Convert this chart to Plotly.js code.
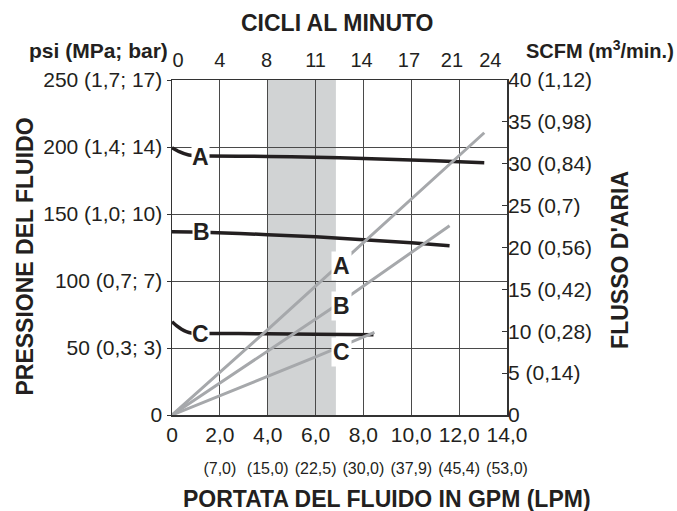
<!DOCTYPE html>
<html>
<head>
<meta charset="utf-8">
<script src="https://cdn.plot.ly/plotly-3.0.1.min.js"></script>
<style>html,body{margin:0;padding:0;background:#fff;}</style>
</head>
<body>
<div id="chart" style="width:677px;height:511px;"></div>
<script>
// ---- data ----
// fluid pressure curves (psi) vs fluid flow (GPM)
const pressA_x = [0, 0.3, 0.7, 1.5, 4, 6, 8, 10, 12, 13.05];
const pressA_y = [199.5, 196.5, 194, 193.3, 193, 192.3, 191.5, 190.3, 189, 188.3];
const pressB_x = [0, 0.8, 1.6, 4, 6, 8, 10, 11.6];
const pressB_y = [136.8, 136.6, 136.2, 134.6, 133, 130.7, 128.5, 126.3];
const pressC_x = [0, 0.2, 0.4, 0.6, 0.8, 1.5, 4, 6, 8.42];
const pressC_y = [69.6, 66.5, 64, 62.2, 61.2, 60.9, 60.6, 60.3, 59.9];
// air flow curves (SCFM) vs fluid flow (GPM)
const airA_x = [0, 4, 13.05];
const airA_y = [0, 10.2, 33.7];
const airB_x = [0, 6.6, 11.6];
const airB_y = [0, 12.6, 22.6];
const airC_x = [0, 6.03, 8.46];
const airC_y = [0, 6.96, 9.87];
// shaded recommended band (GPM)
const bandRange = [4.0, 6.85];

// tick labels
const gpmTicks = [0, 2, 4, 6, 8, 10, 12, 14];
const gpmLabels = ["0", "2,0", "4,0", "6,0", "8,0", "10,0", "12,0", "14,0"];
const lpmTicks = [2, 4, 6, 8, 10, 12, 14];
const lpmLabels = ["(7,0)", "(15,0)", "(22,5)", "(30,0)", "(37,9)", "(45,4)", "(53,0)"];
const cycleLabels = ["0", "4", "8", "11", "14", "17", "21", "24"];
const cyclePos = [0.25, 2.0, 3.95, 6.0, 7.92, 9.9, 11.7, 13.3];
const psiTicks = [0, 50, 100, 150, 200, 250];
const psiLabels = ["0", "50 (0,3; 3)", "100 (0,7; 7)", "150 (1,0; 10)", "200 (1,4; 14)", "250 (1,7; 17)"];
const scfmTicks = [0, 5, 10, 15, 20, 25, 30, 35, 40];
const scfmLabels = ["0", "5 (0,14)", "10 (0,28)", "15 (0,42)", "20 (0,56)", "25 (0,7)", "30 (0,84)", "35 (0,98)", "40 (1,12)"];

// curve labels
const curveNames = ["A", "B", "C"];
const pressLabelX = [1.17, 1.23, 1.17];
const pressLabelY = [192.5, 136.6, 60.4];
const airLabelX = [7.07, 7.07, 7.07];
const airLabelY = [17.8, 13.0, 7.5];

// ---- styling ----
const FONT = "Liberation Sans, Arial, Helvetica, sans-serif";
const INK = "#231f20";
const GRAY = "#a6a8ab";
const GRID = "#4a4a4a";

const blackLine = {color: INK, width: 3.5, shape: "spline", smoothing: 0.6};
const grayLine = {color: GRAY, width: 3};

const traces = [
  {x: airA_x, y: airA_y, xaxis: "x", yaxis: "y2", mode: "lines", line: grayLine, hoverinfo: "skip"},
  {x: airB_x, y: airB_y, xaxis: "x", yaxis: "y2", mode: "lines", line: grayLine, hoverinfo: "skip"},
  {x: airC_x, y: airC_y, xaxis: "x", yaxis: "y2", mode: "lines", line: grayLine, hoverinfo: "skip"},
  {x: pressA_x, y: pressA_y, xaxis: "x", yaxis: "y", mode: "lines", line: blackLine, hoverinfo: "skip"},
  {x: pressB_x, y: pressB_y, xaxis: "x", yaxis: "y", mode: "lines", line: blackLine, hoverinfo: "skip"},
  {x: pressC_x, y: pressC_y, xaxis: "x", yaxis: "y", mode: "lines", line: blackLine, hoverinfo: "skip"},
  // invisible helpers so the extra axes (cycles on top, LPM below) are drawn
  {x: cyclePos, y: cyclePos.map(() => null), xaxis: "x2", yaxis: "y", mode: "markers", marker: {opacity: 0}, hoverinfo: "skip"},
  {x: lpmTicks, y: lpmTicks.map(() => null), xaxis: "x3", yaxis: "y", mode: "markers", marker: {opacity: 0}, hoverinfo: "skip"}
];

const annotations = [];
curveNames.forEach((n, i) => {
  annotations.push({x: pressLabelX[i], y: pressLabelY[i], xref: "x", yref: "y", text: n, showarrow: false,
    bgcolor: "#ffffff", borderpad: 0, font: {family: FONT, size: 23, weight: "bold", color: INK}});
  annotations.push({x: airLabelX[i], y: airLabelY[i], xref: "x", yref: "y2", text: n, showarrow: false,
    bgcolor: "#ffffff", borderpad: 1, font: {family: FONT, size: 23, weight: "bold", color: INK}});
});
const titleFont = {family: FONT, size: 23, weight: "bold", color: INK};
annotations.push(
  {text: "CICLI AL MINUTO", xref: "paper", yref: "paper", x: 0.4955, y: 1.170, xanchor: "center", yanchor: "middle", showarrow: false, font: titleFont},
  {text: "psi (MPa; bar)", xref: "paper", yref: "paper", x: -0.006, y: 1.0866, xanchor: "right", yanchor: "middle", showarrow: false, font: {family: FONT, size: 21, weight: "bold", color: INK}},
  {text: "SCFM (m<sup>3</sup>/min.)", xref: "paper", yref: "paper", x: 1.503, y: 1.0925, xanchor: "right", yanchor: "middle", showarrow: false, font: {family: FONT, size: 20, weight: "bold", color: INK}},
  {text: "PRESSIONE DEL FLUIDO", xref: "paper", yref: "paper", x: -0.4388, y: 0.473, xanchor: "center", yanchor: "middle", textangle: -90, showarrow: false, font: titleFont},
  {text: "FLUSSO D'ARIA", xref: "paper", yref: "paper", x: 1.337, y: 0.4627, xanchor: "center", yanchor: "middle", textangle: -90, showarrow: false, font: titleFont},
  {text: "PORTATA DEL FLUIDO IN GPM (LPM)", xref: "paper", yref: "paper", x: 0.642, y: -0.251, xanchor: "center", yanchor: "middle", showarrow: false, font: titleFont}
);

const tickFont = {family: FONT, size: 21, color: INK};

const layout = {
  width: 677, height: 511,
  margin: {l: 172, r: 170, t: 80, b: 96, pad: 0},
  paper_bgcolor: "#ffffff", plot_bgcolor: "#ffffff",
  showlegend: false,
  font: {family: FONT, color: INK},
  xaxis: {range: [0, 14], tickvals: gpmTicks, ticktext: gpmLabels, ticks: "", showgrid: true, gridcolor: GRID, gridwidth: 1,
          zeroline: false, showline: true, linecolor: "#333", linewidth: 1.5, mirror: true, tickfont: tickFont, fixedrange: true},
  xaxis2: {range: [0, 14], overlaying: "x", side: "top", anchor: "y", tickvals: cyclePos, ticktext: cycleLabels, ticks: "",
           showgrid: false, zeroline: false, showline: false, tickfont: {family: FONT, size: 20, color: INK}, ticklabelstandoff: 8, fixedrange: true},
  xaxis3: {range: [0, 14], overlaying: "x", side: "bottom", anchor: "y", tickvals: lpmTicks, ticktext: lpmLabels, ticks: "",
           showgrid: false, zeroline: false, showline: false, tickfont: {family: FONT, size: 16, color: INK}, ticklabelstandoff: 42, fixedrange: true},
  yaxis: {range: [0, 250], tickvals: psiTicks, ticktext: psiLabels, ticks: "outside", ticklen: 4, tickcolor: "#333", showgrid: true,
          gridcolor: GRID, gridwidth: 1, zeroline: false, showline: true, linecolor: "#333", linewidth: 1.5, mirror: true, tickfont: tickFont, fixedrange: true},
  yaxis2: {range: [0, 40], overlaying: "y", side: "right", anchor: "x", tickvals: scfmTicks, ticktext: scfmLabels, ticks: "inside", ticklen: 5,
           tickcolor: "#333", showgrid: false, zeroline: false, showline: false, tickfont: tickFont, fixedrange: true},
  shapes: [{type: "rect", xref: "x", yref: "paper", x0: bandRange[0], x1: bandRange[1], y0: 0, y1: 1,
            fillcolor: "#d1d3d4", line: {width: 0}, layer: "below"}],
  annotations: annotations
};

Plotly.newPlot("chart", traces, layout, {staticPlot: true, displayModeBar: false});
</script>
</body>
</html>
